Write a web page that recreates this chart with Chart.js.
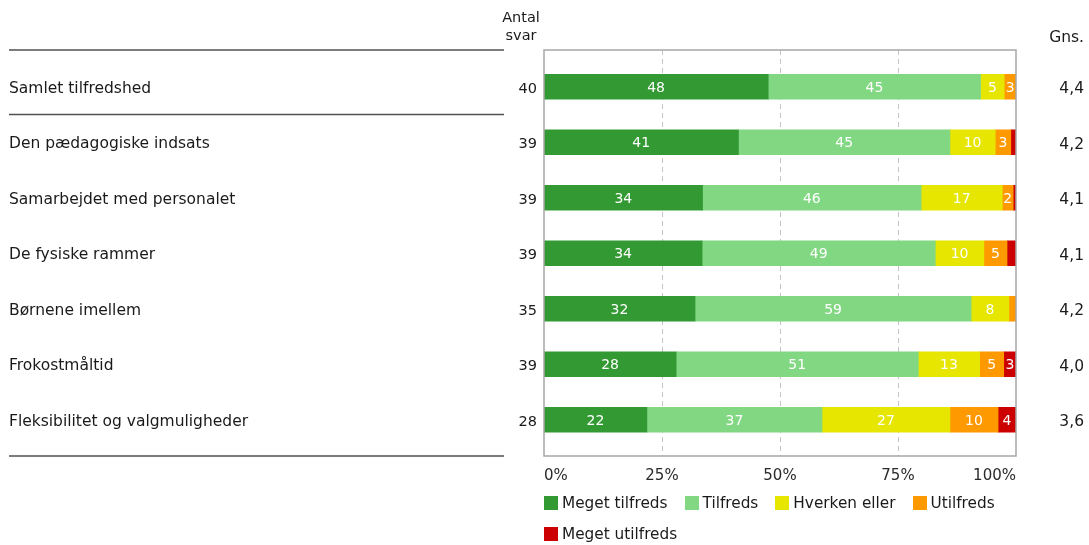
<!DOCTYPE html>
<html>
<head>
<meta charset="utf-8">
<script src="https://cdn.jsdelivr.net/npm/chart.js@4/dist/chart.umd.min.js"></script>
<style>
  html, body { margin: 0; padding: 0; background: #fff; }
  #wrap { position: relative; width: 1089px; height: 545px; overflow: hidden; }
  #legend { position: absolute; display: flex; flex-wrap: wrap; column-gap: 17px;
            font-family: 'DejaVu Sans', Verdana, sans-serif; font-size: 15.3px; color: #1a1a1a; }
  #legend .item { display: flex; align-items: center; height: 31px; white-space: nowrap; }
  #legend .box { width: 14px; height: 14px; margin-right: 4px; }
</style>
</head>
<body>
<div id="wrap">
  <canvas id="c" width="1089" height="545"></canvas>
  <div id="legend"></div>
</div>
<script>
// ---- data ----
const categories = [
  'Samlet tilfredshed',
  'Den pædagogiske indsats',
  'Samarbejdet med personalet',
  'De fysiske rammer',
  'Børnene imellem',
  'Frokostmåltid',
  'Fleksibilitet og valgmuligheder'
];
const antalSvar = [40, 39, 39, 39, 35, 39, 28];
const gns = ['4,4', '4,2', '4,1', '4,1', '4,2', '4,0', '3,6'];
const seriesNames = ['Meget tilfreds', 'Tilfreds', 'Hverken eller', 'Utilfreds', 'Meget utilfreds'];
const megetTilfreds  = [47.5, 41.2, 33.6, 33.5, 32.0, 28.0, 21.8];
const tilfreds       = [45.0, 44.8, 46.3, 49.4, 58.5, 51.3, 37.1];
const hverkenEller   = [5.0, 9.6, 17.2, 10.3, 8.0, 13.0, 27.1];
const utilfreds      = [2.5, 3.3, 2.3, 4.9, 1.5, 5.1, 10.2];
const megetUtilfreds = [0, 1.1, 0.6, 1.9, 0, 2.6, 3.8];
const xTickValues = [0, 25, 50, 75, 100];
const headerAntal = ['Antal', 'svar'];
const headerGns = 'Gns.';

// ---- styles ----
const seriesColors = ['#339933', '#82d882', '#e6e600', '#ff9900', '#cc0000'];
const FONT = "'DejaVu Sans', Verdana, sans-serif";
const TEXT = '#1a1a1a';
Chart.defaults.font.family = FONT;

const seriesData = [megetTilfreds, tilfreds, hverkenEller, utilfreds, megetUtilfreds];

const decor = {
  id: 'decor',
  beforeDatasetsDraw(chart) {
    const { ctx, chartArea: a, scales: { x } } = chart;
    const top = a.top - 9, bottom = a.bottom + 8.5;
    ctx.save();
    ctx.strokeStyle = '#c4c4c4';
    ctx.lineWidth = 1;
    ctx.setLineDash([5, 4]);
    xTickValues.slice(1, -1).forEach(v => {
      const px = Math.round(x.getPixelForValue(v)) + 0.5;
      ctx.beginPath(); ctx.moveTo(px, top); ctx.lineTo(px, bottom); ctx.stroke();
    });
    ctx.restore();
  },
  afterDatasetsDraw(chart) {
    const { ctx, chartArea: a, scales: { x, y } } = chart;
    const top = a.top - 9, bottom = a.bottom + 8.5;
    ctx.save();
    // data labels
    ctx.font = '14px ' + FONT;
    ctx.fillStyle = '#ffffff';
    ctx.textAlign = 'center';
    ctx.textBaseline = 'middle';
    chart.data.datasets.forEach((ds, di) => {
      const meta = chart.getDatasetMeta(di);
      meta.data.forEach((bar, i) => {
        const v = ds.data[i];
        if (v < 2.2) return;
        ctx.fillText(String(Math.round(v)), (bar.x + bar.base) / 2, bar.y + 1.5);
      });
    });
    // plot box
    const x0 = x.getPixelForValue(0), x1 = x.getPixelForValue(100);
    ctx.strokeStyle = '#a6a6a6';
    ctx.lineWidth = 1.5;
    ctx.strokeRect(x0, top, x1 - x0, bottom - top);
    // separator lines on the left
    const sepY = [top, (y.getPixelForValue(0) + y.getPixelForValue(1)) / 2, bottom];
    ctx.strokeStyle = '#505050';
    ctx.lineWidth = 1.6;
    sepY.forEach(sy => {
      ctx.beginPath(); ctx.moveTo(9, sy); ctx.lineTo(504, sy); ctx.stroke();
    });
    // Antal svar column
    ctx.fillStyle = TEXT;
    ctx.font = '14.5px ' + FONT;
    ctx.textAlign = 'center';
    ctx.fillText(headerAntal[0], 521, 18);
    ctx.fillText(headerAntal[1], 521, 36);
    ctx.textAlign = 'right';
    antalSvar.forEach((n, i) => ctx.fillText(String(n), 537, y.getPixelForValue(i) + 2));
    // Gns column
    ctx.font = '15.5px ' + FONT;
    ctx.fillText(headerGns, 1084, 38);
    gns.forEach((g, i) => ctx.fillText(g, 1084, y.getPixelForValue(i) + 2.5));
    ctx.restore();
  }
};

const chart = new Chart(document.getElementById('c'), {
  type: 'bar',
  data: {
    labels: categories,
    datasets: seriesNames.map((name, k) => ({
      label: name,
      data: seriesData[k],
      backgroundColor: seriesColors[k],
      borderWidth: 0,
      barThickness: 25
    }))
  },
  options: {
    indexAxis: 'y',
    responsive: false,
    devicePixelRatio: 1,
    animation: false,
    layout: { padding: { left: 9, right: 73, top: 59, bottom: 42.5 } },
    plugins: { legend: { display: false }, tooltip: { enabled: false } },
    scales: {
      x: {
        stacked: true, min: 0, max: 100,
        afterBuildTicks: s => { s.ticks = xTickValues.map(v => ({ value: v })); },
        afterFit: s => { s.height = 55; },
        ticks: { align: 'inner', padding: 20, color: '#2a2a2a', font: { size: 15 },
                 callback: v => v + '%' },
        grid: { display: false, drawTicks: false },
        border: { display: false }
      },
      y: {
        stacked: true,
        afterFit: s => { s.width = 535; },
        ticks: { crossAlign: 'far', color: TEXT, font: { size: 15.5 }, labelOffset: 2 },
        grid: { display: false, drawTicks: false },
        border: { display: false }
      }
    }
  },
  plugins: [decor]
});

// HTML legend built from the chart's datasets
const lg = document.getElementById('legend');
lg.style.left = chart.chartArea.left + 'px';
lg.style.top = '487.5px';
lg.style.width = (chart.chartArea.right - chart.chartArea.left + 8) + 'px';
chart.data.datasets.forEach(ds => {
  const it = document.createElement('div'); it.className = 'item';
  const b = document.createElement('span'); b.className = 'box'; b.style.background = ds.backgroundColor;
  const t = document.createElement('span'); t.textContent = ds.label;
  it.appendChild(b); it.appendChild(t); lg.appendChild(it);
});
</script>
</body>
</html>
